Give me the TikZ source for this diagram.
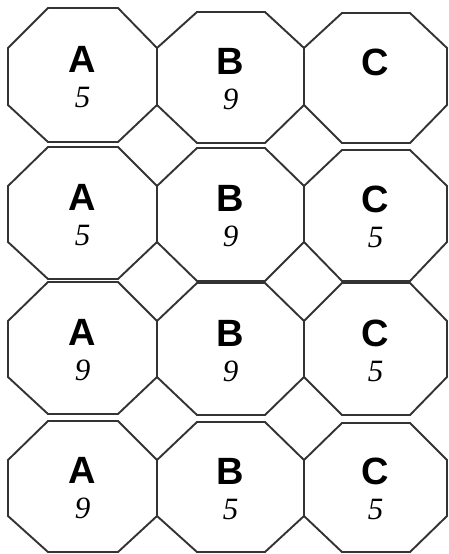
\documentclass[tikz,border=0pt]{standalone}
\usepackage{fontspec}
\newfontfamily\lettfont{Liberation Sans}
\newfontfamily\digfont{Liberation Serif}
\definecolor{edge}{HTML}{333333}
\tikzset{
  oct/.style={draw=edge, line width=1.9pt, line join=miter},
  lab/.style={anchor=base, inner sep=0pt, font=\lettfont\bfseries\fontsize{38}{38}\selectfont},
  num/.style={anchor=base, inner sep=0pt, font=\digfont\itshape\fontsize{31}{31}\selectfont}
}
% #1 left  #2 right  #3 inner-left x  #4 inner-right x  #5 top  #6 bottom  #7 v1  #8 v2  #9 name
\newcommand\octcell[9]{%
  \draw[oct] (#3,#5) -- (#4,#5) -- (#2,#7) -- (#2,#8) -- (#4,#6) -- (#3,#6) -- (#1,#8) -- (#1,#7) -- cycle;
  \coordinate (#9) at ({(#1+#2)/2},{(#5+#6)/2});
}
\begin{document}
\begin{tikzpicture}[x=1pt,y=-1pt]
\fill[white] (0,0) rectangle (449,554);
\useasboundingbox (0,0) rectangle (449,554);
% row 1
\octcell{8}{157}{48}{118}{8}{142}{48}{105}{A1}
\octcell{157}{304}{197}{265}{12}{143}{48}{105}{B1}
\octcell{304}{447}{342}{410}{13}{143}{48}{105}{C1}
% row 2
\octcell{8}{157}{48}{118}{147}{279}{186}{242}{A2}
\octcell{157}{304}{197}{265}{148}{281}{186}{242}{B2}
\octcell{304}{447}{342}{410}{150}{281}{186}{242}{C2}
% row 3
\octcell{8}{157}{48}{118}{282}{414}{321}{377}{A3}
\octcell{157}{304}{197}{265}{283}{415}{321}{377}{B3}
\octcell{304}{447}{342}{410}{283}{415}{321}{377}{C3}
% row 4
\octcell{8}{157}{48}{118}{421}{552}{460}{516}{A4}
\octcell{157}{304}{197}{265}{422}{552}{460}{516}{B4}
\octcell{304}{447}{342}{410}{423}{552}{460}{516}{C4}
% labels
\foreach \c/\r/\d in {A/1/5, B/1/9, A/2/5, B/2/9, C/2/5, A/3/9, B/3/9, C/3/5, A/4/9, B/4/5, C/4/5} {
  \node[lab] (L\c\r) at ([yshift=3pt]\c\r) {\c};
  \node[num] (N\c\r) at ([yshift=-32pt]\c\r) {\d};
}
\node[lab] (LC1) at ([yshift=3pt]C1) {C};
\end{tikzpicture}
\end{document}
